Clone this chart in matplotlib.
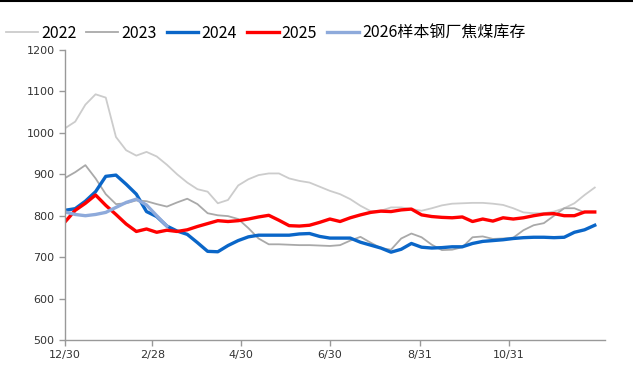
import matplotlib.pyplot as plt
import numpy as np
from matplotlib.lines import Line2D

plt.rcParams['font.family'] = ['Noto Sans CJK SC', 'DejaVu Sans']

# weekly coking coal stock at sample steel mills, week 0 = 12/30
v2022 = [1011, 1027, 1068, 1093, 1085, 990, 958, 945, 954, 943,
         923, 900, 880, 864, 858, 830, 838, 873, 888, 898,
         902, 902, 890, 884, 880, 870, 860, 852, 840, 824,
         811, 812, 820, 820, 816, 812, 818, 825, 829, 830,
         831, 831, 829, 826, 818, 808, 806, 806, 810, 818,
         830, 850, 868]
v2023 = [891, 905, 922, 890, 852, 828, 830, 837, 835, 828,
         822, 832, 841, 828, 806, 801, 799, 792, 770, 745,
         731, 731, 730, 729, 729, 728, 727, 729, 740, 749,
         735, 722, 718, 745, 757, 748, 730, 717, 718, 724,
         748, 750, 744, 745, 747, 765, 777, 782, 800, 818,
         818, 808]
v2024 = [813, 817, 835, 858, 895, 898, 876, 852, 810, 798,
         775, 763, 755, 735, 714, 713, 728, 740, 749, 753,
         753, 753, 753, 756, 757, 750, 746, 746, 746, 736,
         729, 722, 712, 719, 733, 724, 722, 723, 725, 725,
         733, 738, 740, 742, 745, 747, 748, 748, 747, 748,
         760, 766, 777]
v2025 = [785, 813, 830, 850, 825, 803, 780, 762, 768, 760,
         765, 762, 766, 774, 781, 788, 786, 788, 792, 797,
         801, 789, 776, 775, 777, 784, 792, 786, 795, 802,
         808, 811, 810, 814, 816, 802, 798, 796, 795, 797,
         786, 792, 787, 795, 792, 795, 800, 804, 805, 800,
         800, 809, 809]
v2026 = [809, 803, 800, 803, 808, 820, 832, 840, 826, 800, 775]

tick_days = [0, 60, 121, 182, 244, 305]
tick_labels = ['12/30', '2/28', '4/30', '6/30', '8/31', '10/31']

series = [
    ('2022', v2022, '#cccccc', 1.3),
    ('2023', v2023, '#a9a9a9', 1.3),
    ('2024', v2024, '#0a66c8', 2.4),
    ('2025', v2025, '#ff0000', 2.4),
    ('2026样本钢厂焦煤库存', v2026, '#8eaadb', 2.4),
]

fig = plt.figure(figsize=(6.33, 3.70), dpi=100)
ax = fig.add_axes([0.1027, 0.081, 0.853, 0.784])

for name, vals, col, lw in series:
    days = np.arange(len(vals)) * 7
    ax.plot(days, vals, color=col, linewidth=lw, label=name, solid_joinstyle='round')

ax.set_xlim(0, 371)
ax.set_ylim(500, 1200)
ax.set_yticks(range(500, 1201, 100))
ax.set_xticks(tick_days)
ax.set_xticklabels(tick_labels)

for s in ['top', 'right']:
    ax.spines[s].set_visible(False)
for s in ['left', 'bottom']:
    ax.spines[s].set_color('#999999')
    ax.spines[s].set_linewidth(1.0)
ax.tick_params(axis='both', colors='#999999', length=4, width=1.0, direction='out',
               labelcolor='#333333', labelsize=8)
for lab in ax.get_xticklabels() + ax.get_yticklabels():
    lab.set_family('DejaVu Sans')

fig.legend(loc='center left', bbox_to_anchor=(0.01, 0.91), ncol=5, frameon=False,
           fontsize=11.5, handlelength=2.0, handletextpad=0.2, columnspacing=0.6,
           borderaxespad=0, borderpad=0)

fig.add_artist(Line2D([0, 1], [0.998, 0.998], color='black', linewidth=1.5,
                      transform=fig.transFigure))

fig.savefig('out.png', dpi=100)
